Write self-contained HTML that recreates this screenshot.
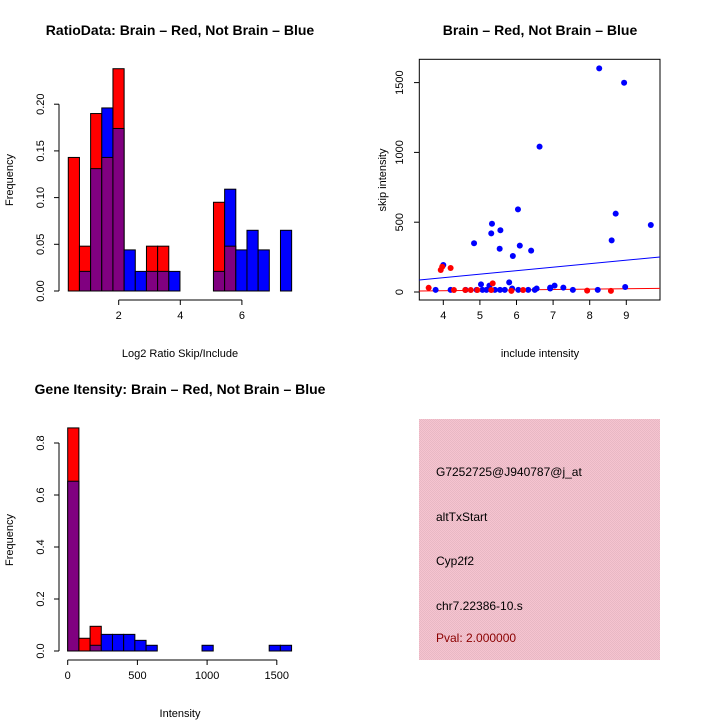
<!DOCTYPE html>
<html><head><meta charset="utf-8"><style>
body{margin:0;background:#fff;}
svg{display:block;font-family:"Liberation Sans",sans-serif;}
</style></head><body>
<svg id="c" width="720" height="720" xmlns="http://www.w3.org/2000/svg">
<rect width="720" height="720" fill="#fff"/>
<text x="180" y="35" text-anchor="middle" font-size="14" font-weight="bold">RatioData: Brain – Red, Not Brain – Blue</text>
<text x="540" y="35" text-anchor="middle" font-size="14" font-weight="bold">Brain – Red, Not Brain – Blue</text>
<text x="180" y="394" text-anchor="middle" font-size="14" font-weight="bold">Gene Itensity: Brain – Red, Not Brain – Blue</text>
<text x="180" y="357" text-anchor="middle" font-size="11">Log2 Ratio Skip/Include</text>
<text x="540" y="357" text-anchor="middle" font-size="11">include intensity</text>
<text x="180" y="717" text-anchor="middle" font-size="11">Intensity</text>
<text transform="translate(13,180) rotate(-90)" text-anchor="middle" font-size="11">Frequency</text>
<text transform="translate(386,180) rotate(-90)" text-anchor="middle" font-size="11">skip intensity</text>
<text transform="translate(13,540) rotate(-90)" text-anchor="middle" font-size="11">Frequency</text>
<defs><pattern id="pk" width="2" height="2" patternUnits="userSpaceOnUse"><rect width="2" height="2" fill="#f6c4d0"/><rect width="1" height="1" fill="#e8b8c4"/><rect x="1" y="1" width="1" height="1" fill="#e8b8c4"/></pattern></defs>
<rect x="419" y="419" width="241" height="241" fill="url(#pk)"/>
<g font-size="12">
<text x="436" y="476">G7252725@J940787@j_at</text>
<text x="436" y="521">altTxStart</text>
<text x="436" y="565">Cyp2f2</text>
<text x="436" y="610">chr7.22386-10.s</text>
<text x="436" y="642" fill="#8b0000">Pval: 2.000000</text>
</g>
<g id="g"></g>
</svg>
<script>
// Ratio histogram data
const ratioBins = [1,2,3,4,5,6,7,8,9,10,11,12,13,14,15,16,17,18,19,20];
const ratioRed  = [0.143,0.048,0.190,0.143,0.238,0,0,0.048,0.048,0,0,0,0,0.095,0.048,0,0,0,0,0];
const ratioBlue = [0,0.021,0.131,0.196,0.174,0.044,0.021,0.021,0.021,0.021,0,0,0,0.021,0.109,0.044,0.065,0.044,0,0.065];
const ratioXTicks = [2,4,6];
const ratioYTicks = [0,0.05,0.10,0.15,0.20];
const ratioYLabels = ["0.00","0.05","0.10","0.15","0.20"];
// Intensity histogram data
const intRed  = [0.858,0.049,0.095,0,0,0,0,0,0,0,0,0,0,0,0,0,0,0,0,0];
const intBlue = [0.653,0,0.022,0.064,0.064,0.064,0.041,0.022,0,0,0,0,0.022,0,0,0,0,0,0.022,0.022];
const intXTicks = [0,500,1000,1500];
const intYTicks = [0,0.2,0.4,0.6,0.8];
const intYLabels = ["0.0","0.2","0.4","0.6","0.8"];
// Scatter data
const blueX = [8.26,8.94,6.63,6.04,8.71,9.67,5.33,5.56,5.31,8.60,4.84,6.09,5.54,6.40,5.90,4.0,5.80,5.03,5.26,7.04,8.97,6.92,7.28,5.88,6.55,6.92,3.79,4.2,4.61,5.07,5.41,5.55,5.68,6.05,6.32,6.50,7.54,8.22,5.18,4.91];
const blueY = [1602,1499,1041,592,561,480,489,442,420,370,349,332,310,296,258,193,69,55,46,46,36,31,31,25,25,25,15,15,15,15,15,15,15,15,15,15,15,15,15,15];
const redX = [3.6,3.93,3.97,4.2,4.29,4.75,4.93,5.35,5.31,5.86,6.18,7.93,8.58,4.6];
const redY = [30,158,181,172,14,14,14,62,14,8,14,10,8,14];
const blueFit = [86,251];
const redFit = [7,26];
const scXTicks = [4,5,6,7,8,9];
const scYTicks = [0,500,1000,1500];

const NS="http://www.w3.org/2000/svg";
const g=document.getElementById('g');
function mk(t,a,p){const e=document.createElementNS(NS,t);for(const k in a)e.setAttribute(k,a[k]);(p||g).appendChild(e);return e;}

// ratio hist scales
const rx=v=>57.1+30.8*v, ry=v=>291-v*934;
const rb0=0.363, rbw=0.3626;
ratioBins.forEach((b,i)=>{
  const x0=rx(rb0+(b-1)*rbw), w=rx(rb0+b*rbw)-x0;
  const r=ratioRed[i], bl=ratioBlue[i], mn=Math.min(r,bl), mx=Math.max(r,bl);
  if(mx>0){const e=mk('rect',{x:x0,y:ry(mx),width:w,height:ry(0)-ry(mx),fill:r>=bl?'#ff0000':'#0000ff',stroke:'#000','stroke-width':1});
  
  }
  if(mn>0){const e=mk('rect',{x:x0,y:ry(mn),width:w,height:ry(0)-ry(mn),fill:'#800080',stroke:'#000','stroke-width':1});
  
  }
});
mk('line',{x1:rx(2),x2:rx(6),y1:300,y2:300,stroke:'#000'});
ratioXTicks.forEach(t=>{mk('line',{x1:rx(t),x2:rx(t),y1:300,y2:305,stroke:'#000'});
 const e=mk('text',{x:rx(t),y:319,'text-anchor':'middle','font-size':11});e.textContent=t;
 
 });
mk('line',{x1:59,x2:59,y1:ry(0),y2:ry(0.2),stroke:'#000'});
ratioYTicks.forEach((t,i)=>{mk('line',{x1:54,x2:59,y1:ry(t),y2:ry(t),stroke:'#000'});
 const e=mk('text',{transform:`translate(44,${ry(t)}) rotate(-90)`,'text-anchor':'middle','font-size':11});e.textContent=ratioYLabels[i];
 
 });

// intensity hist
const ix=v=>67.7+v*0.1394, iy=v=>651-v*260, ibw=80.3;
intRed.forEach((r,i)=>{
  const bl=intBlue[i], x0=ix(i*ibw), w=ix((i+1)*ibw)-x0, mn=Math.min(r,bl), mx=Math.max(r,bl);
  if(mx>0){const e=mk('rect',{x:x0,y:iy(mx),width:w,height:iy(0)-iy(mx),fill:r>=bl?'#ff0000':'#0000ff',stroke:'#000','stroke-width':1});
  
  }
  if(mn>0){const e=mk('rect',{x:x0,y:iy(mn),width:w,height:iy(0)-iy(mn),fill:'#800080',stroke:'#000','stroke-width':1});
  
  }
});
mk('line',{x1:ix(0),x2:ix(1500),y1:660,y2:660,stroke:'#000'});
intXTicks.forEach(t=>{mk('line',{x1:ix(t),x2:ix(t),y1:660,y2:665,stroke:'#000'});
 const e=mk('text',{x:ix(t),y:679,'text-anchor':'middle','font-size':11});e.textContent=t;
 
 });
mk('line',{x1:59,x2:59,y1:iy(0),y2:iy(0.8),stroke:'#000'});
intYTicks.forEach((t,i)=>{mk('line',{x1:54,x2:59,y1:iy(t),y2:iy(t),stroke:'#000'});
 const e=mk('text',{transform:`translate(44,${iy(t)}) rotate(-90)`,'text-anchor':'middle','font-size':11});e.textContent=intYLabels[i];
 
 });

// scatter
const sx=v=>443.3+(v-4)*36.6, sy=v=>292-v*0.1396;
const xl=3.344, xr=9.921;
mk('rect',{x:419.3,y:59.3,width:240.7,height:240.7,fill:'none',stroke:'#000'});
scXTicks.forEach(t=>{mk('line',{x1:sx(t),x2:sx(t),y1:300,y2:305,stroke:'#000'});
 const e=mk('text',{x:sx(t),y:319,'text-anchor':'middle','font-size':11});e.textContent=t;
 
 });
mk('line',{x1:sx(4),x2:sx(9),y1:300,y2:300,stroke:'#000'});
scYTicks.forEach(t=>{mk('line',{x1:414,x2:419.3,y1:sy(t),y2:sy(t),stroke:'#000'});
 const e=mk('text',{transform:`translate(403,${sy(t)}) rotate(-90)`,'text-anchor':'middle','font-size':11});e.textContent=t;
 
 });
let ln=mk('line',{x1:sx(xl),x2:sx(xr),y1:sy(blueFit[0]),y2:sy(blueFit[1]),stroke:'#0000ff'});


ln=mk('line',{x1:sx(xl),x2:sx(xr),y1:sy(redFit[0]),y2:sy(redFit[1]),stroke:'#ff0000'});


blueX.forEach((x,i)=>{const e=mk('circle',{cx:sx(x),cy:sy(blueY[i]),r:3,fill:'#0000ff'});
 
 });
redX.forEach((x,i)=>{const e=mk('circle',{cx:sx(x),cy:sy(redY[i]),r:3,fill:'#ff0000'});
 
 });
</script>
</body></html>
